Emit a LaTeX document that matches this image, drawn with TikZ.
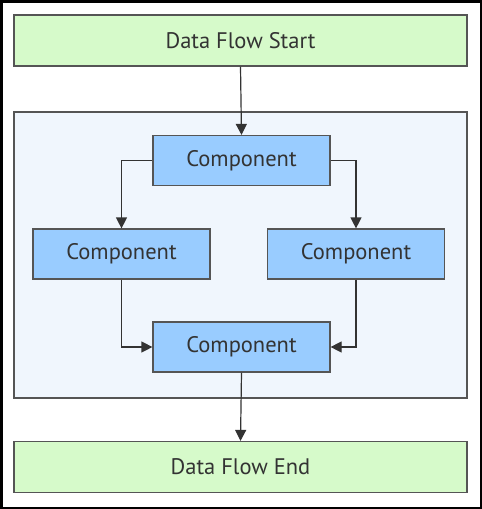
\documentclass[tikz,border=0pt]{standalone}
\usepackage{fontspec}
\setmainfont{PT Sans}
\usetikzlibrary{arrows.meta}
\definecolor{flowgreen}{RGB}{214,250,202}
\definecolor{compblue}{RGB}{153,204,255}
\definecolor{paleblue}{RGB}{240,246,253}
\definecolor{edgegray}{RGB}{85,85,85}
\definecolor{arrowdark}{RGB}{51,51,51}
\tikzset{
  flowbox/.style={draw=edgegray, line width=1.2pt, fill=flowgreen, minimum width=453pt, minimum height=51pt, inner sep=0pt, font=\fontsize{22.5}{26}\selectfont, text=arrowdark},
  compbox/.style={draw=edgegray, line width=1.2pt, fill=compblue, minimum width=177pt, minimum height=50pt, inner sep=0pt, font=\fontsize{22.5}{26}\selectfont, text=arrowdark},
  link/.style={draw=arrowdark, line width=1.2pt, -{Triangle[length=11pt,width=11pt]}}
}
\begin{document}
\begin{tikzpicture}[x=1pt,y=-1pt]
\useasboundingbox (0,0) rectangle (482,509);
\draw[line width=2.5pt, black] (1.25,1.25) rectangle (480.75,507.75);
\node[draw=edgegray, line width=1.2pt, fill=paleblue, minimum width=453pt, minimum height=286pt, inner sep=0pt] (container) at (240.5,255) {};
\node[flowbox] (start) at (240.5,40.5) {Data Flow Start};
\node[flowbox] (end) at (240.5,467) {Data Flow End};
\node[compbox] (c1) at (241.5,160.5) {Component};
\node[compbox] (c2) at (121.5,254) {Component};
\node[compbox] (c3) at (356,254) {Component};
\node[compbox] (c4) at (241.5,347) {Component};
\draw[link] (start.south) -- (c1.north);
\draw[link] (c1.west) -| (c2.north);
\draw[link] (c1.east) -| (c3.north);
\draw[link] (c2.south) |- (c4.west);
\draw[link] (c3.south) |- (c4.east);
\draw[link] (c4.south) -- (end.north);
\end{tikzpicture}
\end{document}
